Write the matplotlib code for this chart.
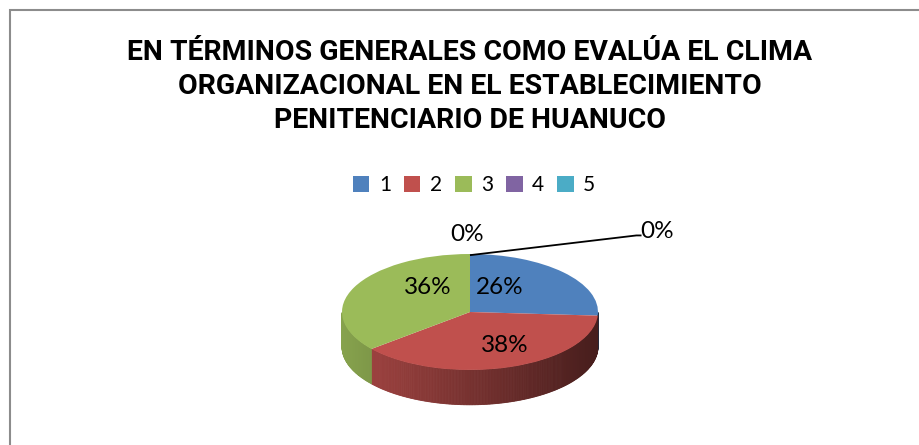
import numpy as np
import matplotlib
matplotlib.use('Agg')
import matplotlib.pyplot as plt
from matplotlib.patches import Rectangle, Polygon

# data
categories = ['1', '2', '3', '4', '5']
values = [26, 38, 36, 0, 0]
pct_labels = ['26%', '38%', '36%', '0%', '0%']
colors = ['#4F81BD', '#C0504D', '#9BBB59', '#8064A2', '#4BACC6']
title_lines = ['EN TÉRMINOS GENERALES COMO EVALÚA EL CLIMA',
               'ORGANIZACIONAL EN EL ESTABLECIMIENTO',
               'PENITENCIARIO DE HUANUCO']

W, H = 919, 445
fig = plt.figure(figsize=(W / 100, H / 100), dpi=100)
fig.patch.set_facecolor('white')

# chart frame (runs off right/bottom like the screenshot)
fig.patches.append(Rectangle((10 / W, -0.1), 1.2, 1 - 10 / H + 0.1, transform=fig.transFigure,
                             facecolor='none', edgecolor='#8c8c8c', linewidth=1.5))

title_font = ['Roboto', 'Liberation Sans', 'DejaVu Sans']
for line, base in zip(title_lines, [60, 94, 128]):
    fig.text(470 / W, 1 - base / H, line, ha='center', va='baseline', fontsize=20.4,
             fontweight='bold', family=title_font, color='black')

# pie axes: 1 x-unit = 128 px, 1 y-unit = 58 px -> ellipse
cx, cy, rx, ry = 470, 312, 128, 58
ax = fig.add_axes([(cx - 1.6 * rx) / W, (H - cy - 2 * ry) / H, 3.2 * rx / W, 4 * ry / H])
wedges, _ = ax.pie(values, colors=colors, startangle=90, counterclock=False,
                   radius=1, wedgeprops=dict(linewidth=0), normalize=True)
for w in wedges:
    w.set_zorder(3)
ax.set_aspect('auto')
ax.set_xlim(-1.6, 1.6)
ax.set_ylim(-2, 2)
ax.axis('off')

# side wall of the 3D pie, shaded darker to the right
depth = 0.6
total = float(sum(values))
start = 90.0
for v, c in zip(values, colors):
    if v == 0:
        continue
    end = start - 360.0 * v / total
    a1, a2 = np.radians(end), np.radians(start)
    t = np.linspace(a1, a2, 200)
    t = t[np.sin(t) <= 0.001]
    base = np.array(matplotlib.colors.to_rgb(c))
    for i in range(len(t) - 1):
        t1, t2 = t[i], t[i + 1]
        f = 0.62 - 0.25 * np.cos((t1 + t2) / 2)
        poly = [(np.cos(t1), np.sin(t1)), (np.cos(t2), np.sin(t2)),
                (np.cos(t2), np.sin(t2) - depth), (np.cos(t1), np.sin(t1) - depth)]
        ax.add_patch(Polygon(poly, closed=True, facecolor=base * f, edgecolor=base * f,
                             linewidth=0.6, zorder=2))
    start = end

# percentage labels
lab_font = ['Lato', 'DejaVu Sans']
lab_pos = [(0.23, 0.43), (0.27, -0.57), (-0.33, 0.43), (-0.02, 1.33), (1.46, 1.38)]
for txt, (x, y) in zip(pct_labels, lab_pos):
    ax.text(x, y, txt, ha='center', va='center', fontsize=17.5, family=lab_font,
            color='black', zorder=5)
ax.plot([0, 1.3, 1.34], [0.98, 1.32, 1.32], color='black', linewidth=1.3, zorder=4,
        solid_capstyle='butt')

leg = fig.legend(wedges, categories, loc='center', bbox_to_anchor=(474 / W, 1 - 185 / H),
                 ncol=5, frameon=False, handlelength=0.8, handleheight=0.8,
                 handletextpad=0.45, columnspacing=0.62,
                 prop={'family': lab_font, 'size': 15})

fig.savefig('out.png', dpi=100)
